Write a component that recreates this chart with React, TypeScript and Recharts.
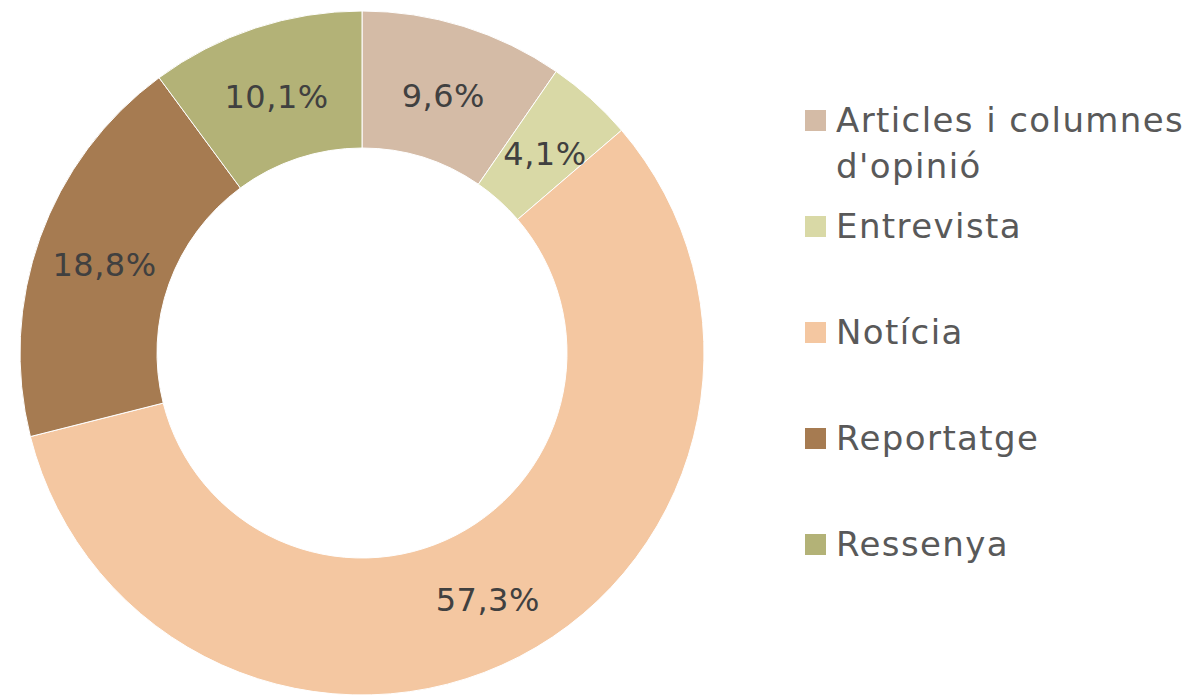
import React from "react";
import { PieChart, Pie, Cell, Legend } from "recharts";

const categories = [
  "Articles i columnes d'opinió",
  "Entrevista",
  "Notícia",
  "Reportatge",
  "Ressenya",
];
const shares = [9.6, 4.1, 57.3, 18.8, 10.1];
const COLORS = ["#D4BBA6", "#D9D9A6", "#F4C7A1", "#A67B51", "#B3B277"];

const pieData = categories.map((name, i) => ({ name, value: shares[i] }));

const FONT = "'DejaVu Sans', sans-serif";
const RAD = Math.PI / 180;

const renderLabel = (props: any) => {
  const { cx, cy, midAngle, innerRadius, outerRadius, value } = props;
  const r = (innerRadius + outerRadius) / 2;
  const x = cx + r * Math.cos(-midAngle * RAD);
  const y = cy + r * Math.sin(-midAngle * RAD);
  return (
    <text
      x={x}
      y={y}
      dy={4}
      fill="#404040"
      fontSize={32}
      fontFamily={FONT}
      letterSpacing={0.5}
      textAnchor="middle"
      dominantBaseline="central"
    >
      {value.toFixed(1).replace(".", ",")}%
    </text>
  );
};

const LegendBox = () => (
  <div
    style={{
      fontFamily: FONT,
      fontSize: 34,
      letterSpacing: 1.4,
      color: "#595959",
    }}
  >
    {categories.map((name, i) => (
      <div
        key={name}
        style={{ display: "flex", alignItems: "flex-start", height: 106 }}
      >
        <div
          style={{
            width: 21,
            height: 21,
            background: COLORS[i],
            marginTop: 13,
            marginRight: 10,
            flexShrink: 0,
          }}
        />
        <div style={{ lineHeight: "46px", width: 370, whiteSpace: "nowrap" }}>
          {i === 0 ? (
            <>
              Articles i columnes
              <br />
              d'opinió
            </>
          ) : (
            name
          )}
        </div>
      </div>
    ))}
  </div>
);

export default function App() {
  return (
    <div style={{ position: "absolute", left: 0, top: 0 }}>
      <PieChart
        width={1196}
        height={696}
        margin={{ top: 0, right: 0, bottom: 0, left: 0 }}
      >
        <Pie
          data={pieData}
          dataKey="value"
          cx={362}
          cy={353}
          innerRadius={205}
          outerRadius={342}
          startAngle={90}
          endAngle={-270}
          stroke="#ffffff"
          strokeWidth={1}
          label={renderLabel}
          labelLine={false}
          isAnimationActive={false}
        >
          {pieData.map((_, index) => (
            <Cell key={`cell-${index}`} fill={COLORS[index]} />
          ))}
        </Pie>
        <Legend
          layout="vertical"
          content={() => <LegendBox />}
          wrapperStyle={{ left: 805, top: 97, width: 391 }}
        />
      </PieChart>
    </div>
  );
}
